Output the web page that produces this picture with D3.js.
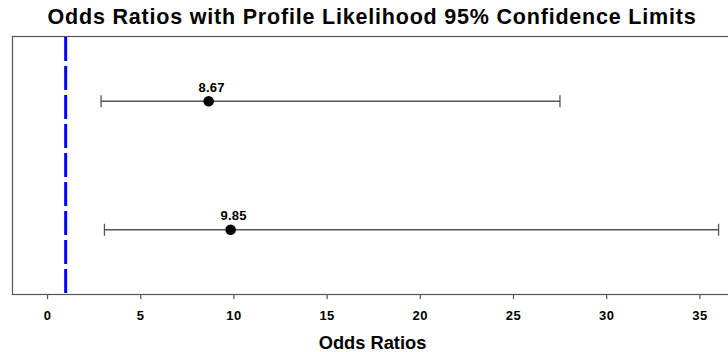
<!DOCTYPE html>
<html>
<head>
<meta charset="utf-8">
<script src="https://cdn.jsdelivr.net/npm/d3@7"></script>
<style>
  html, body { margin: 0; padding: 0; background: #fff; }
  svg { display: block; font-family: "Liberation Sans", Arial, sans-serif; }
</style>
</head>
<body>
<svg id="chart" width="728" height="352"></svg>
<script>
// Odds ratio estimates with profile-likelihood 95% confidence limits
const effects = ["Effect 1", "Effect 2"];
const oddsRatios = [8.67, 9.85];
const lowerLimits = [2.90, 3.08];
const upperLimits = [27.52, 36.03];
const xTicks = [0, 5, 10, 15, 20, 25, 30, 35];
const referenceValue = [1];

const plot = { left: 12, right: 732, top: 36, bottom: 294 };

const svg = d3.select("#chart");

const x = d3.scaleLinear().domain([-1.88, 36.75]).range([plot.left, plot.right]);
const y = d3.scalePoint().domain(effects).range([plot.top + 1, plot.bottom]).padding(0.5);

// Title
svg.append("text")
  .attr("x", (plot.left + plot.right) / 2)
  .attr("y", 24)
  .attr("text-anchor", "middle")
  .attr("font-size", 21.5)
  .attr("letter-spacing", 0.8)
  .attr("font-weight", "bold")
  .attr("fill", "#000")
  .text("Odds Ratios with Profile Likelihood 95% Confidence Limits");

// Plot frame
svg.append("rect")
  .attr("x", plot.left + 0.5)
  .attr("y", plot.top + 0.5)
  .attr("width", plot.right - plot.left)
  .attr("height", plot.bottom - plot.top)
  .attr("fill", "none")
  .attr("stroke", "#555")
  .attr("stroke-width", 1.2);

// Reference line at OR = 1
svg.selectAll("line.ref").data(referenceValue).join("line")
  .attr("class", "ref")
  .attr("x1", d => x(d)).attr("x2", d => x(d))
  .attr("y1", plot.top + 1).attr("y2", plot.bottom)
  .attr("stroke", "#0000ff")
  .attr("stroke-width", 3)
  .attr("stroke-dasharray", "24,5");

// X axis
const xAxis = d3.axisBottom(x).tickValues(xTicks).tickSize(5).tickPadding(12).tickFormat(d3.format("d"));
const gx = svg.append("g").attr("transform", `translate(0,${plot.bottom})`).call(xAxis);
gx.select(".domain").remove();
gx.selectAll(".tick line").attr("stroke", "#555").attr("stroke-width", 1.2);
gx.selectAll(".tick text")
  .attr("font-size", 13)
  .attr("letter-spacing", 0.5)
  .attr("font-weight", "bold")
  .attr("font-family", "'Liberation Sans', Arial, sans-serif")
  .attr("fill", "#000");

// X axis label
svg.append("text")
  .attr("x", 372.5)
  .attr("y", 349)
  .attr("text-anchor", "middle")
  .attr("font-size", 18.3)
  .attr("font-weight", "bold")
  .attr("fill", "#000")
  .text("Odds Ratios");

const rows = effects.map((e, i) => ({
  effect: e, or: oddsRatios[i], lo: lowerLimits[i], hi: upperLimits[i]
}));

const g = svg.append("g");

// Confidence limit bars
g.selectAll("line.ci").data(rows).join("line")
  .attr("class", "ci")
  .attr("x1", d => x(d.lo)).attr("x2", d => x(d.hi))
  .attr("y1", d => y(d.effect)).attr("y2", d => y(d.effect))
  .attr("stroke", "#555").attr("stroke-width", 1.3);

// Whisker caps
g.selectAll("line.capL").data(rows).join("line")
  .attr("class", "capL")
  .attr("x1", d => x(d.lo)).attr("x2", d => x(d.lo))
  .attr("y1", d => y(d.effect) - 6).attr("y2", d => y(d.effect) + 6)
  .attr("stroke", "#555").attr("stroke-width", 1.3);
g.selectAll("line.capR").data(rows).join("line")
  .attr("class", "capR")
  .attr("x1", d => x(d.hi)).attr("x2", d => x(d.hi))
  .attr("y1", d => y(d.effect) - 6).attr("y2", d => y(d.effect) + 6)
  .attr("stroke", "#555").attr("stroke-width", 1.3);

// Point estimates
g.selectAll("circle.est").data(rows).join("circle")
  .attr("class", "est")
  .attr("cx", d => x(d.or)).attr("cy", d => y(d.effect))
  .attr("r", 5.3)
  .attr("fill", "#000");

// Value labels
g.selectAll("text.lbl").data(rows).join("text")
  .attr("class", "lbl")
  .attr("x", d => x(d.or) + 3).attr("y", d => y(d.effect) - 9.4)
  .attr("text-anchor", "middle")
  .attr("font-size", 13)
  .attr("letter-spacing", 0.2)
  .attr("font-weight", "bold")
  .attr("fill", "#000")
  .text(d => d3.format(".2f")(d.or));
</script>
</body>
</html>
